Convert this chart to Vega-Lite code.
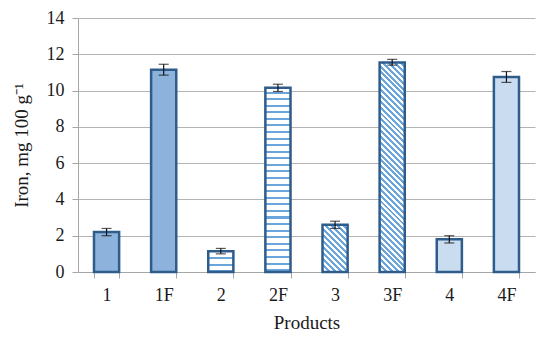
{
  "$schema": "https://vega.github.io/schema/vega-lite/v6.json",
  "autosize": {"type": "none"},
  "padding": {"left": 78, "top": 18, "right": 6, "bottom": 66},
  "width": 457,
  "height": 254,
  "background": "white",
  "config": {
    "view": {"stroke": null},
    "font": "Liberation Serif",
    "axis": {"labelFont": "Liberation Serif", "titleFont": "Liberation Serif", "labelColor": "#1a1a1a", "titleColor": "#1a1a1a", "titleFontWeight": "normal"}
  },
  "data": {
    "values": [
      {"product": "1", "iron": 2.2, "lo": 2.0, "hi": 2.4},
      {"product": "1F", "iron": 11.15, "lo": 10.85, "hi": 11.45},
      {"product": "2", "iron": 1.15, "lo": 1.0, "hi": 1.3},
      {"product": "2F", "iron": 10.15, "lo": 9.95, "hi": 10.35},
      {"product": "3", "iron": 2.6, "lo": 2.4, "hi": 2.8},
      {"product": "3F", "iron": 11.55, "lo": 11.4, "hi": 11.72},
      {"product": "4", "iron": 1.8, "lo": 1.6, "hi": 2.0},
      {"product": "4F", "iron": 10.75, "lo": 10.45, "hi": 11.05}
    ]
  },
  "encoding": {
    "x": {
      "field": "product", "type": "nominal", "sort": null,
      "scale": {"paddingInner": 0.56, "paddingOuter": 0.28},
      "axis": {
        "title": "Products", "titleFontSize": 19, "titlePadding": 9,
        "labelAngle": 0, "labelFontSize": 18, "labelPadding": 8,
        "tickBand": "extent", "tickSize": 6, "tickColor": "#a6a6a6",
        "domainColor": "#a6a6a6", "grid": false
      }
    }
  },
  "layer": [
    {
      "mark": {"type": "bar", "stroke": "#2e5d8c", "strokeWidth": 2.5},
      "encoding": {
        "y": {
          "field": "iron", "type": "quantitative",
          "scale": {"domain": [0, 14], "nice": false},
          "axis": {
            "title": "Iron, mg 100 g⁻¹", "titleFontSize": 19, "titlePadding": 15,
            "values": [0, 2, 4, 6, 8, 10, 12, 14], "labelOverlap": false,
            "labelFontSize": 18, "labelPadding": 8, "tickSize": 6,
            "tickColor": "#a6a6a6", "domainColor": "#a6a6a6",
            "gridColor": "#b3b3b3", "gridWidth": 1.2
          }
        },
        "fill": {
          "condition": [
            {"test": "datum.product === '2F'", "value": {"gradient": "linear", "x1": 0, "y1": 0, "x2": 0, "y2": 1, "stops": [
              {"offset": 0, "color": "#fff"},
              {"offset": 0.020, "color": "#fff"}, {"offset": 0.020, "color": "#6aa5db"}, {"offset": 0.031, "color": "#6aa5db"}, {"offset": 0.031, "color": "#fff"},
              {"offset": 0.0557, "color": "#fff"}, {"offset": 0.0557, "color": "#6aa5db"}, {"offset": 0.0667, "color": "#6aa5db"}, {"offset": 0.0667, "color": "#fff"},
              {"offset": 0.0914, "color": "#fff"}, {"offset": 0.0914, "color": "#6aa5db"}, {"offset": 0.1024, "color": "#6aa5db"}, {"offset": 0.1024, "color": "#fff"},
              {"offset": 0.1271, "color": "#fff"}, {"offset": 0.1271, "color": "#6aa5db"}, {"offset": 0.1381, "color": "#6aa5db"}, {"offset": 0.1381, "color": "#fff"},
              {"offset": 0.1628, "color": "#fff"}, {"offset": 0.1628, "color": "#6aa5db"}, {"offset": 0.1738, "color": "#6aa5db"}, {"offset": 0.1738, "color": "#fff"},
              {"offset": 0.1986, "color": "#fff"}, {"offset": 0.1986, "color": "#6aa5db"}, {"offset": 0.2096, "color": "#6aa5db"}, {"offset": 0.2096, "color": "#fff"},
              {"offset": 0.2343, "color": "#fff"}, {"offset": 0.2343, "color": "#6aa5db"}, {"offset": 0.2453, "color": "#6aa5db"}, {"offset": 0.2453, "color": "#fff"},
              {"offset": 0.2700, "color": "#fff"}, {"offset": 0.2700, "color": "#6aa5db"}, {"offset": 0.2810, "color": "#6aa5db"}, {"offset": 0.2810, "color": "#fff"},
              {"offset": 0.3057, "color": "#fff"}, {"offset": 0.3057, "color": "#6aa5db"}, {"offset": 0.3167, "color": "#6aa5db"}, {"offset": 0.3167, "color": "#fff"},
              {"offset": 0.3414, "color": "#fff"}, {"offset": 0.3414, "color": "#6aa5db"}, {"offset": 0.3524, "color": "#6aa5db"}, {"offset": 0.3524, "color": "#fff"},
              {"offset": 0.3771, "color": "#fff"}, {"offset": 0.3771, "color": "#6aa5db"}, {"offset": 0.3881, "color": "#6aa5db"}, {"offset": 0.3881, "color": "#fff"},
              {"offset": 0.4128, "color": "#fff"}, {"offset": 0.4128, "color": "#6aa5db"}, {"offset": 0.4238, "color": "#6aa5db"}, {"offset": 0.4238, "color": "#fff"},
              {"offset": 0.4485, "color": "#fff"}, {"offset": 0.4485, "color": "#6aa5db"}, {"offset": 0.4595, "color": "#6aa5db"}, {"offset": 0.4595, "color": "#fff"},
              {"offset": 0.4842, "color": "#fff"}, {"offset": 0.4842, "color": "#6aa5db"}, {"offset": 0.4952, "color": "#6aa5db"}, {"offset": 0.4952, "color": "#fff"},
              {"offset": 0.5199, "color": "#fff"}, {"offset": 0.5199, "color": "#6aa5db"}, {"offset": 0.5309, "color": "#6aa5db"}, {"offset": 0.5309, "color": "#fff"},
              {"offset": 0.5557, "color": "#fff"}, {"offset": 0.5557, "color": "#6aa5db"}, {"offset": 0.5667, "color": "#6aa5db"}, {"offset": 0.5667, "color": "#fff"},
              {"offset": 0.5914, "color": "#fff"}, {"offset": 0.5914, "color": "#6aa5db"}, {"offset": 0.6024, "color": "#6aa5db"}, {"offset": 0.6024, "color": "#fff"},
              {"offset": 0.6271, "color": "#fff"}, {"offset": 0.6271, "color": "#6aa5db"}, {"offset": 0.6381, "color": "#6aa5db"}, {"offset": 0.6381, "color": "#fff"},
              {"offset": 0.6628, "color": "#fff"}, {"offset": 0.6628, "color": "#6aa5db"}, {"offset": 0.6738, "color": "#6aa5db"}, {"offset": 0.6738, "color": "#fff"},
              {"offset": 0.6985, "color": "#fff"}, {"offset": 0.6985, "color": "#6aa5db"}, {"offset": 0.7095, "color": "#6aa5db"}, {"offset": 0.7095, "color": "#fff"},
              {"offset": 0.7342, "color": "#fff"}, {"offset": 0.7342, "color": "#6aa5db"}, {"offset": 0.7452, "color": "#6aa5db"}, {"offset": 0.7452, "color": "#fff"},
              {"offset": 0.7699, "color": "#fff"}, {"offset": 0.7699, "color": "#6aa5db"}, {"offset": 0.7809, "color": "#6aa5db"}, {"offset": 0.7809, "color": "#fff"},
              {"offset": 0.8056, "color": "#fff"}, {"offset": 0.8056, "color": "#6aa5db"}, {"offset": 0.8166, "color": "#6aa5db"}, {"offset": 0.8166, "color": "#fff"},
              {"offset": 0.8413, "color": "#fff"}, {"offset": 0.8413, "color": "#6aa5db"}, {"offset": 0.8523, "color": "#6aa5db"}, {"offset": 0.8523, "color": "#fff"},
              {"offset": 0.8770, "color": "#fff"}, {"offset": 0.8770, "color": "#6aa5db"}, {"offset": 0.8880, "color": "#6aa5db"}, {"offset": 0.8880, "color": "#fff"},
              {"offset": 0.9128, "color": "#fff"}, {"offset": 0.9128, "color": "#6aa5db"}, {"offset": 0.9238, "color": "#6aa5db"}, {"offset": 0.9238, "color": "#fff"},
              {"offset": 0.9485, "color": "#fff"}, {"offset": 0.9485, "color": "#6aa5db"}, {"offset": 0.9595, "color": "#6aa5db"}, {"offset": 0.9595, "color": "#fff"},
              {"offset": 0.9842, "color": "#fff"}, {"offset": 0.9842, "color": "#6aa5db"}, {"offset": 0.9952, "color": "#6aa5db"}, {"offset": 0.9952, "color": "#fff"},
              {"offset": 1, "color": "#fff"}
            ]}},
            {"test": "datum.product === '2'", "value": {"gradient": "linear", "x1": 0, "y1": 0, "x2": 0, "y2": 1, "stops": [
              {"offset": 0, "color": "#fff"},
              {"offset": 0.28, "color": "#fff"}, {"offset": 0.28, "color": "#6aa5db"}, {"offset": 0.37, "color": "#6aa5db"}, {"offset": 0.37, "color": "#fff"},
              {"offset": 0.60, "color": "#fff"}, {"offset": 0.60, "color": "#6aa5db"}, {"offset": 0.69, "color": "#6aa5db"}, {"offset": 0.69, "color": "#fff"},
              {"offset": 0.91, "color": "#fff"}, {"offset": 0.91, "color": "#6aa5db"}, {"offset": 1, "color": "#6aa5db"}
            ]}},
            {"test": "datum.product === '3F'", "value": {"gradient": "linear", "x1": 0, "y1": 1, "x2": 0.1322, "y2": -0.104, "stops": [
              {"offset": 0, "color": "#6aa5db"},
              {"offset": 0.0125, "color": "#6aa5db"}, {"offset": 0.0125, "color": "#fff"}, {"offset": 0.025, "color": "#fff"}, {"offset": 0.025, "color": "#6aa5db"},
              {"offset": 0.0375, "color": "#6aa5db"}, {"offset": 0.0375, "color": "#fff"}, {"offset": 0.05, "color": "#fff"}, {"offset": 0.05, "color": "#6aa5db"},
              {"offset": 0.0625, "color": "#6aa5db"}, {"offset": 0.0625, "color": "#fff"}, {"offset": 0.075, "color": "#fff"}, {"offset": 0.075, "color": "#6aa5db"},
              {"offset": 0.0875, "color": "#6aa5db"}, {"offset": 0.0875, "color": "#fff"}, {"offset": 0.1, "color": "#fff"}, {"offset": 0.1, "color": "#6aa5db"},
              {"offset": 0.1125, "color": "#6aa5db"}, {"offset": 0.1125, "color": "#fff"}, {"offset": 0.125, "color": "#fff"}, {"offset": 0.125, "color": "#6aa5db"},
              {"offset": 0.1375, "color": "#6aa5db"}, {"offset": 0.1375, "color": "#fff"}, {"offset": 0.15, "color": "#fff"}, {"offset": 0.15, "color": "#6aa5db"},
              {"offset": 0.1625, "color": "#6aa5db"}, {"offset": 0.1625, "color": "#fff"}, {"offset": 0.175, "color": "#fff"}, {"offset": 0.175, "color": "#6aa5db"},
              {"offset": 0.1875, "color": "#6aa5db"}, {"offset": 0.1875, "color": "#fff"}, {"offset": 0.2, "color": "#fff"}, {"offset": 0.2, "color": "#6aa5db"},
              {"offset": 0.2125, "color": "#6aa5db"}, {"offset": 0.2125, "color": "#fff"}, {"offset": 0.225, "color": "#fff"}, {"offset": 0.225, "color": "#6aa5db"},
              {"offset": 0.2375, "color": "#6aa5db"}, {"offset": 0.2375, "color": "#fff"}, {"offset": 0.25, "color": "#fff"}, {"offset": 0.25, "color": "#6aa5db"},
              {"offset": 0.2625, "color": "#6aa5db"}, {"offset": 0.2625, "color": "#fff"}, {"offset": 0.275, "color": "#fff"}, {"offset": 0.275, "color": "#6aa5db"},
              {"offset": 0.2875, "color": "#6aa5db"}, {"offset": 0.2875, "color": "#fff"}, {"offset": 0.3, "color": "#fff"}, {"offset": 0.3, "color": "#6aa5db"},
              {"offset": 0.3125, "color": "#6aa5db"}, {"offset": 0.3125, "color": "#fff"}, {"offset": 0.325, "color": "#fff"}, {"offset": 0.325, "color": "#6aa5db"},
              {"offset": 0.3375, "color": "#6aa5db"}, {"offset": 0.3375, "color": "#fff"}, {"offset": 0.35, "color": "#fff"}, {"offset": 0.35, "color": "#6aa5db"},
              {"offset": 0.3625, "color": "#6aa5db"}, {"offset": 0.3625, "color": "#fff"}, {"offset": 0.375, "color": "#fff"}, {"offset": 0.375, "color": "#6aa5db"},
              {"offset": 0.3875, "color": "#6aa5db"}, {"offset": 0.3875, "color": "#fff"}, {"offset": 0.4, "color": "#fff"}, {"offset": 0.4, "color": "#6aa5db"},
              {"offset": 0.4125, "color": "#6aa5db"}, {"offset": 0.4125, "color": "#fff"}, {"offset": 0.425, "color": "#fff"}, {"offset": 0.425, "color": "#6aa5db"},
              {"offset": 0.4375, "color": "#6aa5db"}, {"offset": 0.4375, "color": "#fff"}, {"offset": 0.45, "color": "#fff"}, {"offset": 0.45, "color": "#6aa5db"},
              {"offset": 0.4625, "color": "#6aa5db"}, {"offset": 0.4625, "color": "#fff"}, {"offset": 0.475, "color": "#fff"}, {"offset": 0.475, "color": "#6aa5db"},
              {"offset": 0.4875, "color": "#6aa5db"}, {"offset": 0.4875, "color": "#fff"}, {"offset": 0.5, "color": "#fff"}, {"offset": 0.5, "color": "#6aa5db"},
              {"offset": 0.5125, "color": "#6aa5db"}, {"offset": 0.5125, "color": "#fff"}, {"offset": 0.525, "color": "#fff"}, {"offset": 0.525, "color": "#6aa5db"},
              {"offset": 0.5375, "color": "#6aa5db"}, {"offset": 0.5375, "color": "#fff"}, {"offset": 0.55, "color": "#fff"}, {"offset": 0.55, "color": "#6aa5db"},
              {"offset": 0.5625, "color": "#6aa5db"}, {"offset": 0.5625, "color": "#fff"}, {"offset": 0.575, "color": "#fff"}, {"offset": 0.575, "color": "#6aa5db"},
              {"offset": 0.5875, "color": "#6aa5db"}, {"offset": 0.5875, "color": "#fff"}, {"offset": 0.6, "color": "#fff"}, {"offset": 0.6, "color": "#6aa5db"},
              {"offset": 0.6125, "color": "#6aa5db"}, {"offset": 0.6125, "color": "#fff"}, {"offset": 0.625, "color": "#fff"}, {"offset": 0.625, "color": "#6aa5db"},
              {"offset": 0.6375, "color": "#6aa5db"}, {"offset": 0.6375, "color": "#fff"}, {"offset": 0.65, "color": "#fff"}, {"offset": 0.65, "color": "#6aa5db"},
              {"offset": 0.6625, "color": "#6aa5db"}, {"offset": 0.6625, "color": "#fff"}, {"offset": 0.675, "color": "#fff"}, {"offset": 0.675, "color": "#6aa5db"},
              {"offset": 0.6875, "color": "#6aa5db"}, {"offset": 0.6875, "color": "#fff"}, {"offset": 0.7, "color": "#fff"}, {"offset": 0.7, "color": "#6aa5db"},
              {"offset": 0.7125, "color": "#6aa5db"}, {"offset": 0.7125, "color": "#fff"}, {"offset": 0.725, "color": "#fff"}, {"offset": 0.725, "color": "#6aa5db"},
              {"offset": 0.7375, "color": "#6aa5db"}, {"offset": 0.7375, "color": "#fff"}, {"offset": 0.75, "color": "#fff"}, {"offset": 0.75, "color": "#6aa5db"},
              {"offset": 0.7625, "color": "#6aa5db"}, {"offset": 0.7625, "color": "#fff"}, {"offset": 0.775, "color": "#fff"}, {"offset": 0.775, "color": "#6aa5db"},
              {"offset": 0.7875, "color": "#6aa5db"}, {"offset": 0.7875, "color": "#fff"}, {"offset": 0.8, "color": "#fff"}, {"offset": 0.8, "color": "#6aa5db"},
              {"offset": 0.8125, "color": "#6aa5db"}, {"offset": 0.8125, "color": "#fff"}, {"offset": 0.825, "color": "#fff"}, {"offset": 0.825, "color": "#6aa5db"},
              {"offset": 0.8375, "color": "#6aa5db"}, {"offset": 0.8375, "color": "#fff"}, {"offset": 0.85, "color": "#fff"}, {"offset": 0.85, "color": "#6aa5db"},
              {"offset": 0.8625, "color": "#6aa5db"}, {"offset": 0.8625, "color": "#fff"}, {"offset": 0.875, "color": "#fff"}, {"offset": 0.875, "color": "#6aa5db"},
              {"offset": 0.8875, "color": "#6aa5db"}, {"offset": 0.8875, "color": "#fff"}, {"offset": 0.9, "color": "#fff"}, {"offset": 0.9, "color": "#6aa5db"},
              {"offset": 0.9125, "color": "#6aa5db"}, {"offset": 0.9125, "color": "#fff"}, {"offset": 0.925, "color": "#fff"}, {"offset": 0.925, "color": "#6aa5db"},
              {"offset": 0.9375, "color": "#6aa5db"}, {"offset": 0.9375, "color": "#fff"}, {"offset": 0.95, "color": "#fff"}, {"offset": 0.95, "color": "#6aa5db"},
              {"offset": 0.9625, "color": "#6aa5db"}, {"offset": 0.9625, "color": "#fff"}, {"offset": 0.975, "color": "#fff"}, {"offset": 0.975, "color": "#6aa5db"},
              {"offset": 0.9875, "color": "#6aa5db"}, {"offset": 0.9875, "color": "#fff"}, {"offset": 1, "color": "#fff"}
            ]}},
            {"test": "datum.product === '3'", "value": {"gradient": "linear", "x1": 0, "y1": 1, "x2": 0.636, "y2": -0.195, "stops": [
              {"offset": 0, "color": "#6aa5db"},
              {"offset": 0.04167, "color": "#6aa5db"}, {"offset": 0.04167, "color": "#fff"}, {"offset": 0.08333, "color": "#fff"}, {"offset": 0.08333, "color": "#6aa5db"},
              {"offset": 0.125, "color": "#6aa5db"}, {"offset": 0.125, "color": "#fff"}, {"offset": 0.16667, "color": "#fff"}, {"offset": 0.16667, "color": "#6aa5db"},
              {"offset": 0.20833, "color": "#6aa5db"}, {"offset": 0.20833, "color": "#fff"}, {"offset": 0.25, "color": "#fff"}, {"offset": 0.25, "color": "#6aa5db"},
              {"offset": 0.29167, "color": "#6aa5db"}, {"offset": 0.29167, "color": "#fff"}, {"offset": 0.33333, "color": "#fff"}, {"offset": 0.33333, "color": "#6aa5db"},
              {"offset": 0.375, "color": "#6aa5db"}, {"offset": 0.375, "color": "#fff"}, {"offset": 0.41667, "color": "#fff"}, {"offset": 0.41667, "color": "#6aa5db"},
              {"offset": 0.45833, "color": "#6aa5db"}, {"offset": 0.45833, "color": "#fff"}, {"offset": 0.5, "color": "#fff"}, {"offset": 0.5, "color": "#6aa5db"},
              {"offset": 0.54167, "color": "#6aa5db"}, {"offset": 0.54167, "color": "#fff"}, {"offset": 0.58333, "color": "#fff"}, {"offset": 0.58333, "color": "#6aa5db"},
              {"offset": 0.625, "color": "#6aa5db"}, {"offset": 0.625, "color": "#fff"}, {"offset": 0.66667, "color": "#fff"}, {"offset": 0.66667, "color": "#6aa5db"},
              {"offset": 0.70833, "color": "#6aa5db"}, {"offset": 0.70833, "color": "#fff"}, {"offset": 0.75, "color": "#fff"}, {"offset": 0.75, "color": "#6aa5db"},
              {"offset": 0.79167, "color": "#6aa5db"}, {"offset": 0.79167, "color": "#fff"}, {"offset": 0.83333, "color": "#fff"}, {"offset": 0.83333, "color": "#6aa5db"},
              {"offset": 0.875, "color": "#6aa5db"}, {"offset": 0.875, "color": "#fff"}, {"offset": 0.91667, "color": "#fff"}, {"offset": 0.91667, "color": "#6aa5db"},
              {"offset": 0.95833, "color": "#6aa5db"}, {"offset": 0.95833, "color": "#fff"}, {"offset": 1, "color": "#fff"}
            ]}}
          ],
          "field": "product", "type": "nominal", "sort": null, "legend": null,
          "scale": {"domain": ["1", "1F", "2", "2F", "3", "3F", "4", "4F"],
                    "range": ["#8db3dc", "#8db3dc", "#d3e2f3", "#d3e2f3", "#a7c5e6", "#a7c5e6", "#cadcf0", "#cadcf0"]}
        }
      }
    },
    {
      "mark": {"type": "rule", "color": "#111", "strokeWidth": 1.2},
      "encoding": {
        "y": {"field": "lo", "type": "quantitative",
          "axis": {
            "title": "Iron, mg 100 g⁻¹", "titleFontSize": 19, "titlePadding": 15,
            "values": [0, 2, 4, 6, 8, 10, 12, 14], "labelOverlap": false,
            "labelFontSize": 18, "labelPadding": 8, "tickSize": 6,
            "tickColor": "#a6a6a6", "domainColor": "#a6a6a6",
            "gridColor": "#b3b3b3", "gridWidth": 1.2
          }},
        "y2": {"field": "hi"}
      }
    },
    {
      "mark": {"type": "tick", "color": "#111", "thickness": 1.2, "size": 10, "orient": "horizontal"},
      "encoding": {"y": {"field": "lo", "type": "quantitative",
          "axis": {
            "title": "Iron, mg 100 g⁻¹", "titleFontSize": 19, "titlePadding": 15,
            "values": [0, 2, 4, 6, 8, 10, 12, 14], "labelOverlap": false,
            "labelFontSize": 18, "labelPadding": 8, "tickSize": 6,
            "tickColor": "#a6a6a6", "domainColor": "#a6a6a6",
            "gridColor": "#b3b3b3", "gridWidth": 1.2
          }}}
    },
    {
      "mark": {"type": "tick", "color": "#111", "thickness": 1.2, "size": 10, "orient": "horizontal"},
      "encoding": {"y": {"field": "hi", "type": "quantitative",
          "axis": {
            "title": "Iron, mg 100 g⁻¹", "titleFontSize": 19, "titlePadding": 15,
            "values": [0, 2, 4, 6, 8, 10, 12, 14], "labelOverlap": false,
            "labelFontSize": 18, "labelPadding": 8, "tickSize": 6,
            "tickColor": "#a6a6a6", "domainColor": "#a6a6a6",
            "gridColor": "#b3b3b3", "gridWidth": 1.2
          }}}
    }
  ]
}
